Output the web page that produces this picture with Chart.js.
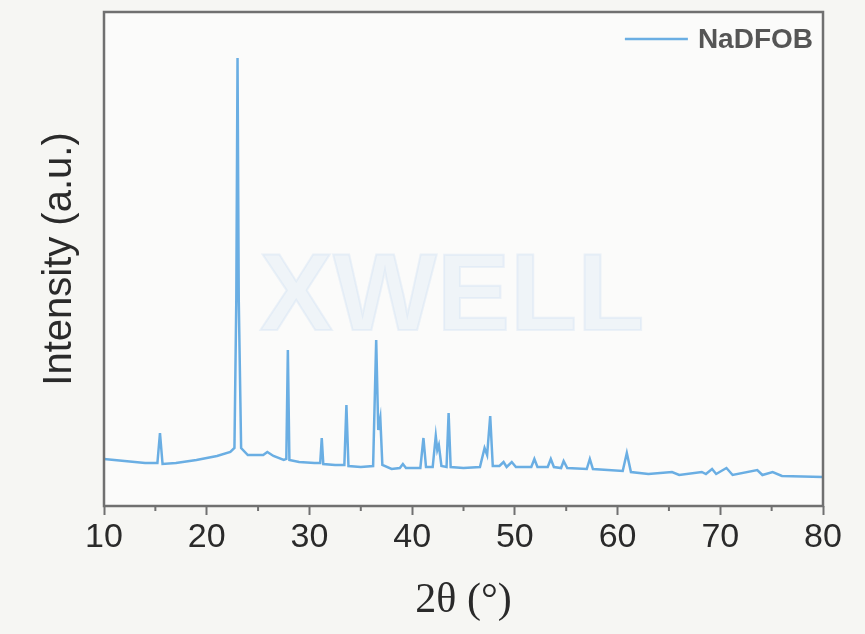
<!DOCTYPE html>
<html>
<head>
<meta charset="utf-8">
<script src="https://cdn.jsdelivr.net/npm/chart.js@4/dist/chart.umd.min.js"></script>
<style>
  body { margin: 0; background: #f6f6f3; }
  #wrap { width: 865px; height: 634px; }
</style>
</head>
<body>
<div id="wrap"><canvas id="xrd"></canvas></div>
<script>
// 2theta positions (deg) and intensity (a.u.)
const twoTheta = [10, 12, 14, 15.2, 15.45, 15.7, 17, 19, 21, 22.3, 22.7, 22.88, 23.0, 23.12, 23.35,
    24, 25.5, 25.9, 26.5, 27.5, 27.75, 27.9, 28.05, 29, 30.5, 31.05, 31.2, 31.35, 32.5, 33.4, 33.6,
    33.8, 35, 36.2, 36.5, 36.7, 36.9, 37.1, 38, 38.8, 39.1, 39.4, 40.8, 41.1, 41.35, 42.0, 42.3,
    42.45, 42.6, 42.85, 43.35, 43.55, 43.75, 45, 46.6, 47.05, 47.3, 47.6, 47.85, 48.5, 48.9, 49.2,
    49.7, 50.1, 51.6, 51.9, 52.2, 53.2, 53.5, 53.8, 54.5, 54.75, 55.1, 57.0, 57.3, 57.6, 60.5, 60.9,
    61.3, 63, 65.3, 66, 68.2, 68.6, 69.2, 69.6, 70.6, 71.2, 73.6, 74.1, 75.1, 76, 80];
const intensity = [47, 45, 43, 43, 73, 42, 43, 46, 50, 54, 58, 206, 448, 206, 58,
    51, 51, 54, 50, 46, 47, 156, 46, 44, 43, 43, 68, 42, 41, 41, 101,
    40, 39, 40, 166, 76, 88, 41, 37, 38, 42, 38, 38, 68, 39, 39, 70,
    56, 61, 40, 39, 93, 39, 38, 39, 58, 51, 90, 40, 40, 44, 39,
    44, 39, 39, 47, 39, 39, 47, 39, 38, 45, 38, 37, 47, 37, 35, 53,
    34, 32, 34, 31, 34, 32, 37, 32, 38, 31, 36, 31, 34, 30, 29];
const majorTicks = [10, 20, 30, 40, 50, 60, 70, 80];
const minorTicks = [15, 25, 35, 45, 55, 65, 75];

const points = twoTheta.map((t, i) => ({ x: t, y: intensity[i] }));

const frame = {
    id: 'frame',
    beforeDraw(chart) {
        const { ctx, chartArea: a } = chart;
        ctx.save();
        ctx.fillStyle = '#f6f6f3';
        ctx.fillRect(0, 0, chart.width, chart.height);
        ctx.fillStyle = '#fbfbfa';
        ctx.fillRect(a.left, a.top, a.right - a.left, a.bottom - a.top);
        // faint watermark
        ctx.font = 'bold 110px "Liberation Sans", Arial, sans-serif';
        ctx.textAlign = 'center';
        ctx.textBaseline = 'middle';
        ctx.fillStyle = 'rgba(205, 224, 244, 0.25)';
        ctx.fillText('XWELL', 452, 300);
        ctx.strokeStyle = 'rgba(200, 220, 242, 0.3)';
        ctx.lineWidth = 2;
        ctx.strokeText('XWELL', 452, 300);
        ctx.restore();
    },
    afterDraw(chart) {
        const { ctx, chartArea: a } = chart;
        const x = chart.scales.x;
        const ds = chart.data.datasets[0];
        ctx.save();
        ctx.strokeStyle = '#707070';
        ctx.lineWidth = 2.5;
        ctx.strokeRect(a.left, a.top, a.right - a.left, a.bottom - a.top);
        ctx.lineWidth = 2;
        ctx.beginPath();
        minorTicks.forEach(v => {
            const px = x.getPixelForValue(v);
            ctx.moveTo(px, a.bottom);
            ctx.lineTo(px, a.bottom + 5);
        });
        ctx.stroke();
        // legend inside the plot, top right
        const ly = a.top + 27;
        const textRight = a.right - 10;
        ctx.font = 'bold 28px "Liberation Sans", Arial, sans-serif';
        const tw = ctx.measureText(ds.label).width;
        const tx = textRight - tw;
        ctx.strokeStyle = ds.borderColor;
        ctx.lineWidth = 2.5;
        ctx.beginPath();
        ctx.moveTo(tx - 73, ly);
        ctx.lineTo(tx - 10, ly);
        ctx.stroke();
        ctx.fillStyle = '#555';
        ctx.textAlign = 'left';
        ctx.textBaseline = 'middle';
        ctx.fillText(ds.label, tx, ly + 1);
        ctx.restore();
    }
};

new Chart(document.getElementById('xrd'), {
    type: 'line',
    data: {
        datasets: [{
            label: 'NaDFOB',
            data: points,
            borderColor: '#6aaee3',
            backgroundColor: '#6aaee3',
            borderWidth: 2.5,
            pointRadius: 0,
            tension: 0
        }]
    },
    options: {
        responsive: true,
        maintainAspectRatio: false,
        animation: false,
        layout: { padding: { top: 12, right: 42, left: 0, bottom: 0 } },
        plugins: {
            tooltip: { enabled: false },
            legend: { display: false }
        },
        scales: {
            x: {
                type: 'linear',
                min: 10,
                max: 80,
                afterBuildTicks(scale) {
                    scale.ticks = majorTicks.map(v => ({ value: v }));
                },
                afterFit(scale) { scale.height = 128; },
                border: { display: false },
                grid: {
                    drawOnChartArea: false,
                    drawTicks: true,
                    tickLength: 9,
                    tickColor: '#707070',
                    tickWidth: 2
                },
                ticks: {
                    color: '#2a2a2a',
                    padding: 2,
                    maxRotation: 0,
                    font: { family: '"Liberation Sans", Arial, sans-serif', size: 34 }
                },
                title: {
                    display: true,
                    text: '2θ (°)',
                    color: '#2a2a2a',
                    padding: { top: 8, bottom: 8 },
                    font: { family: '"Liberation Serif", "Times New Roman", serif', size: 42 }
                }
            },
            y: {
                min: 0,
                max: 494,
                afterFit(scale) { scale.width = 104; },
                border: { display: false },
                grid: { display: false },
                ticks: { display: false },
                title: {
                    display: true,
                    text: 'Intensity (a.u.)',
                    color: '#2a2a2a',
                    padding: { top: 36, bottom: 36 },
                    font: { family: '"Liberation Sans", Arial, sans-serif', size: 40 }
                }
            }
        }
    },
    plugins: [frame]
});
</script>
</body>
</html>
